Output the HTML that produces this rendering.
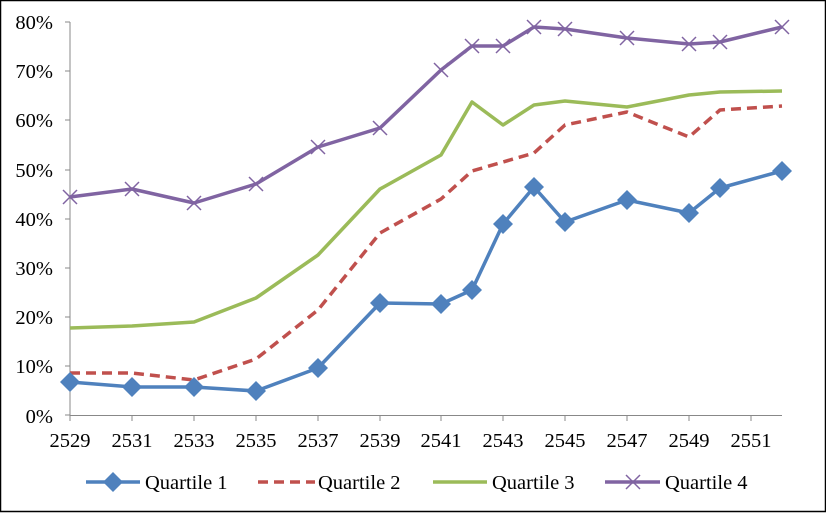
<!DOCTYPE html>
<html><head><meta charset="utf-8"><style>
html,body{margin:0;padding:0;background:#fff}
svg{display:block}
text{font-family:"Liberation Serif",serif;font-size:20.5px;fill:#000}
</style></head><body>
<svg width="826" height="513" viewBox="0 0 826 513">
<rect x="0.5" y="0.5" width="825" height="511" fill="#fff" stroke="#000" stroke-width="1.5"/>
<g stroke="#888" stroke-width="1">
<line x1="70" y1="22" x2="70" y2="416"/>
<line x1="70" y1="415.5" x2="782" y2="415.5"/>
<line x1="65" y1="22" x2="70" y2="22"/><line x1="65" y1="71" x2="70" y2="71"/><line x1="65" y1="120" x2="70" y2="120"/><line x1="65" y1="170" x2="70" y2="170"/><line x1="65" y1="219" x2="70" y2="219"/><line x1="65" y1="268" x2="70" y2="268"/><line x1="65" y1="317" x2="70" y2="317"/><line x1="65" y1="366" x2="70" y2="366"/><line x1="65" y1="415" x2="70" y2="415"/>
<line x1="70" y1="415" x2="70" y2="421"/><line x1="132" y1="415" x2="132" y2="421"/><line x1="194" y1="415" x2="194" y2="421"/><line x1="256" y1="415" x2="256" y2="421"/><line x1="318" y1="415" x2="318" y2="421"/><line x1="380" y1="415" x2="380" y2="421"/><line x1="441" y1="415" x2="441" y2="421"/><line x1="503" y1="415" x2="503" y2="421"/><line x1="565" y1="415" x2="565" y2="421"/><line x1="627" y1="415" x2="627" y2="421"/><line x1="689" y1="415" x2="689" y2="421"/><line x1="751" y1="415" x2="751" y2="421"/>
</g>
<g text-anchor="end">
<text x="53" y="29">80%</text><text x="53" y="78">70%</text><text x="53" y="127">60%</text><text x="53" y="177">50%</text><text x="53" y="226">40%</text><text x="53" y="275">30%</text><text x="53" y="324">20%</text><text x="53" y="373">10%</text><text x="53" y="423">0%</text>
</g>
<g text-anchor="middle">
<text x="70" y="447">2529</text><text x="132" y="447">2531</text><text x="194" y="447">2533</text><text x="256" y="447">2535</text><text x="318" y="447">2537</text><text x="380" y="447">2539</text><text x="441" y="447">2541</text><text x="503" y="447">2543</text><text x="565" y="447">2545</text><text x="627" y="447">2547</text><text x="689" y="447">2549</text><text x="751" y="447">2551</text>
</g>
<g fill="none" stroke-width="3.5" stroke-linejoin="round">
<polyline stroke="#9bbb59" points="70,328 132,326 194,322 256,298 318,255 380,189 441,155 472,102 503,125 534,105 565,101 627,107 689,95 720,92 782,91"/>
<polyline stroke="#c0504d" stroke-dasharray="10,6" points="70,373 132,373 194,380 256,359 318,310 380,233 441,199 472,171 503,162 534,153 565,125 627,112 689,137 720,110 782,106"/>
<polyline stroke="#8064a2" points="70,197 132,189 194,203 256,184 318,147 380,128 441,70 472,46 503,46 534,27 565,29 627,38 689,44 720,42 782,27"/>
<polyline stroke="#4f81bd" points="70,382 132,387 194,387 256,391 318,368 380,303 441,304 472,290 503,224 534,187 565,222 627,200 689,213 720,188 782,171"/>
</g>
<g stroke="#8064a2" stroke-width="1.5">
<path d="M63,190l14,14M77,190l-14,14M125,182l14,14M139,182l-14,14M187,196l14,14M201,196l-14,14M249,177l14,14M263,177l-14,14M311,140l14,14M325,140l-14,14M373,121l14,14M387,121l-14,14M434,63l14,14M448,63l-14,14M465,39l14,14M479,39l-14,14M496,39l14,14M510,39l-14,14M527,20l14,14M541,20l-14,14M558,22l14,14M572,22l-14,14M620,31l14,14M634,31l-14,14M682,37l14,14M696,37l-14,14M713,35l14,14M727,35l-14,14M775,20l14,14M789,20l-14,14"/>
</g>
<g fill="#4f81bd">
<path d="M70,372l10,10l-10,10l-10,-10z M132,377l10,10l-10,10l-10,-10z M194,377l10,10l-10,10l-10,-10z M256,381l10,10l-10,10l-10,-10z M318,358l10,10l-10,10l-10,-10z M380,293l10,10l-10,10l-10,-10z M441,294l10,10l-10,10l-10,-10z M472,280l10,10l-10,10l-10,-10z M503,214l10,10l-10,10l-10,-10z M534,177l10,10l-10,10l-10,-10z M565,212l10,10l-10,10l-10,-10z M627,190l10,10l-10,10l-10,-10z M689,203l10,10l-10,10l-10,-10z M720,178l10,10l-10,10l-10,-10z M782,161l10,10l-10,10l-10,-10z"/>
</g>
<g stroke-width="3.5">
<line x1="86" y1="482" x2="140" y2="482" stroke="#4f81bd"/>
<path d="M113,472l10,10l-10,10l-10,-10z" fill="#4f81bd" stroke="none"/>
<line x1="258" y1="482" x2="315" y2="482" stroke="#c0504d" stroke-dasharray="10,6"/>
<line x1="433" y1="482" x2="487" y2="482" stroke="#9bbb59"/>
<line x1="605" y1="482" x2="660" y2="482" stroke="#8064a2"/>
<path d="M626,475l14,14M640,475l-14,14" stroke="#8064a2" stroke-width="1.5"/>
</g>
<text x="145" y="489">Quartile 1</text>
<text x="318" y="489">Quartile 2</text>
<text x="492" y="489">Quartile 3</text>
<text x="665" y="489">Quartile 4</text>
</svg>
</body></html>
